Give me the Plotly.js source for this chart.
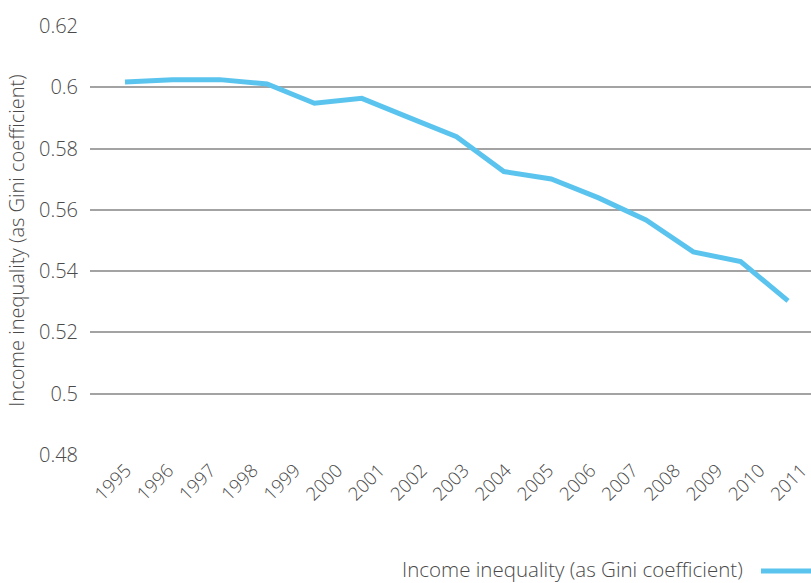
<!DOCTYPE html>
<html>
<head>
<meta charset="utf-8">
<script src="https://cdn.plot.ly/plotly-3.0.1.min.js"></script>
<style>
html,body{margin:0;padding:0;background:#fff;}
#chart{width:811px;height:583px;}
</style>
</head>
<body>
<div id="chart"></div>
<script>
// Axis category labels (years shown on the x axis)
var axisYears = ['1995','1996','1997','1998','1999','2000','2001','2002','2003','2004','2005','2006','2007','2008','2009','2010','2011'];
// Survey years of the series (evenly spaced in the source chart)
var dataYears = ['1995','1996','1997','1998','1999','2001','2002','2003','2004','2005','2006','2007','2008','2009','2011'];
// Income inequality (Gini coefficient)
var giniValues = [0.6017, 0.6025, 0.6025, 0.6011, 0.5948, 0.5964, 0.5901, 0.5839, 0.5725, 0.5701, 0.5639, 0.5567, 0.5463, 0.5431, 0.5303];
var yTickVals = [0.48, 0.5, 0.52, 0.54, 0.56, 0.58, 0.6, 0.62];
var yTickText = ['0.48', '0.5', '0.52', '0.54', '0.56', '0.58', '0.6', '0.62'];
var seriesName = 'Income inequality (as Gini coefficient)';
var yTitle = 'Income inequality (as Gini coefficient)';

var lineColor = '#5BC4EE';
var textColor = '#4a4a4a';
var fontFam = '"Open Sans", Roboto, sans-serif';

var traces = [
  { // invisible trace to carry the year axis
    x: axisYears,
    y: axisYears.map(function(){ return null; }),
    type: 'scatter', mode: 'lines', xaxis: 'x', yaxis: 'y',
    showlegend: false, hoverinfo: 'skip'
  },
  {
    x: dataYears,
    y: giniValues,
    type: 'scatter', mode: 'lines',
    name: seriesName,
    xaxis: 'x2', yaxis: 'y',
    line: {color: lineColor, width: 5},
    showlegend: false
  }
];

var layout = {
  width: 811, height: 583,
  margin: {l: 90, r: 0, t: 26, b: 128},
  paper_bgcolor: '#ffffff', plot_bgcolor: '#ffffff',
  font: {family: fontFam, color: textColor, weight: 300},
  showlegend: false,
  xaxis: {
    type: 'category',
    categoryorder: 'array', categoryarray: axisYears,
    range: [-0.85, 16.22],
    showgrid: false, zeroline: false, showline: false,
    ticks: '', tickangle: -45,
    tickfont: {size: 18.5, color: textColor, family: fontFam, weight: 300},
    fixedrange: true
  },
  xaxis2: {
    type: 'category',
    categoryorder: 'array', categoryarray: dataYears,
    overlaying: 'x',
    range: [-0.739, 14.485],
    visible: false, fixedrange: true
  },
  yaxis: {
    range: [0.48, 0.62],
    tickvals: yTickVals, ticktext: yTickText,
    showgrid: true, gridcolor: '#a3a3a3', gridwidth: 2,
    zeroline: false, showline: false, ticks: '',
    ticklabelstandoff: 11,
    tickfont: {size: 20, color: textColor, family: fontFam, weight: 300},
    title: {text: yTitle, font: {size: 20, color: textColor, family: fontFam, weight: 300}, standoff: 8},
    fixedrange: true
  },
  annotations: [{
    xref: 'paper', yref: 'paper',
    x: (745 - 90) / 721, y: -(569 - 455) / 429,
    xanchor: 'right', yanchor: 'middle',
    text: seriesName, showarrow: false,
    font: {size: 20.5, color: textColor, family: fontFam, weight: 300}
  }],
  shapes: [{
    type: 'line', xref: 'paper', yref: 'paper',
    x0: (761 - 90) / 721, x1: (830 - 90) / 721,
    y0: -(571 - 455) / 429, y1: -(571 - 455) / 429,
    line: {color: lineColor, width: 5}
  }]
};

Plotly.newPlot('chart', traces, layout, {displayModeBar: false, staticPlot: true});
</script>
</body>
</html>
